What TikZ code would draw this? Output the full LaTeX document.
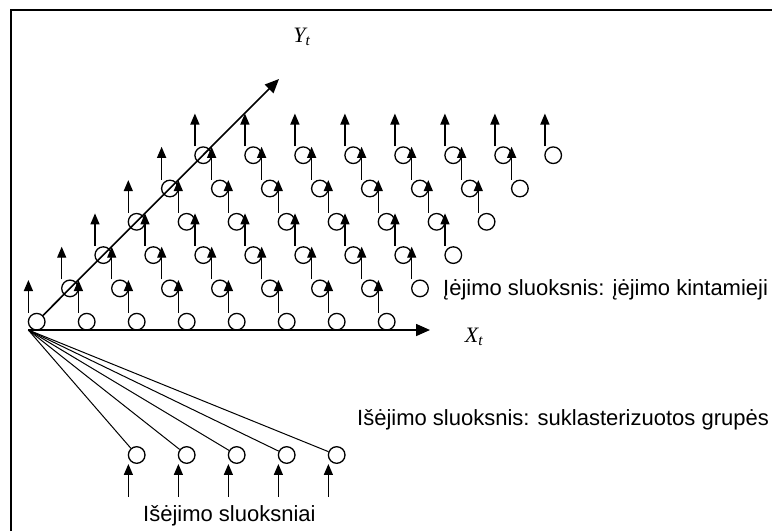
\documentclass[tikz,border=0pt]{standalone}
\usepackage{fontspec}
\setmainfont{Liberation Sans}
\newfontfamily\tnr{Liberation Serif}
\usetikzlibrary{arrows.meta}

\begin{document}
\begin{tikzpicture}[
    x=1pt, y=-1pt,
    neuron/.style={circle, draw=black, line width=1.3pt, minimum size=16.6pt, inner sep=0pt},
    arrow/.style={-{Triangle[length=11pt, width=9pt]}, line width=1.3pt},
    axis/.style={-{Triangle[length=14pt, width=12pt]}, line width=1.6pt},
    lbl/.style={font=\fontsize{22}{26}\selectfont, anchor=base west, inner sep=0pt},
    var/.style={font=\tnr\itshape\fontsize{22}{26}\selectfont, inner sep=0pt}
]
\useasboundingbox (0,0) rectangle (772,531);
% frame
\draw[line width=2.4pt] (11,531) -- (11,10) -- (772,10);

% input layer
\foreach \r in {0,...,5}
  \foreach \i in {0,...,7} {
    \node[neuron] (c-\r-\i) at ({36.7+33.3*\r+50*\i}, {321.7-33.3*\r}) {};
    \coordinate (tip-\r-\i) at ({28.4+33.3*\r+50*\i}, {280-33.3*\r});
    \draw[arrow] ([xshift=-8.3pt]c-\r-\i.north) -- (tip-\r-\i);
  }

% axes
\coordinate (o) at (28.3,330);
\coordinate (xtip) at (430,330);
\coordinate (ytip) at (279,79);
\draw[axis] (o) -- (xtip);
\draw[axis] (c-0-0) -- (ytip);
\node[var] (xlab) at (474,337) {X\textsubscript{t}};
\node[var] (ylab) at (302,37) {Y\textsubscript{t}};

% output layer
\foreach \k in {1,...,5} {
  \node[neuron] (out-\k) at ({86.7+50*\k}, 455) {};
  \draw[line width=1pt] (o) -- (out-\k);
  \coordinate (src-\k) at ({78.4+50*\k}, 496.7);
  \draw[arrow] (src-\k) -- ([xshift=-8.3pt]out-\k.south);
}

% labels
\node[lbl] (inlab) at (443,295) {Įėjimo sluoksnis: įėjimo kintamieji};
\node[lbl] (outlab) at (357,425) {Išėjimo sluoksnis: suklasterizuotos grupės};
\node[lbl] (layerlab) at (143,521) {Išėjimo sluoksniai};
\end{tikzpicture}
\end{document}
